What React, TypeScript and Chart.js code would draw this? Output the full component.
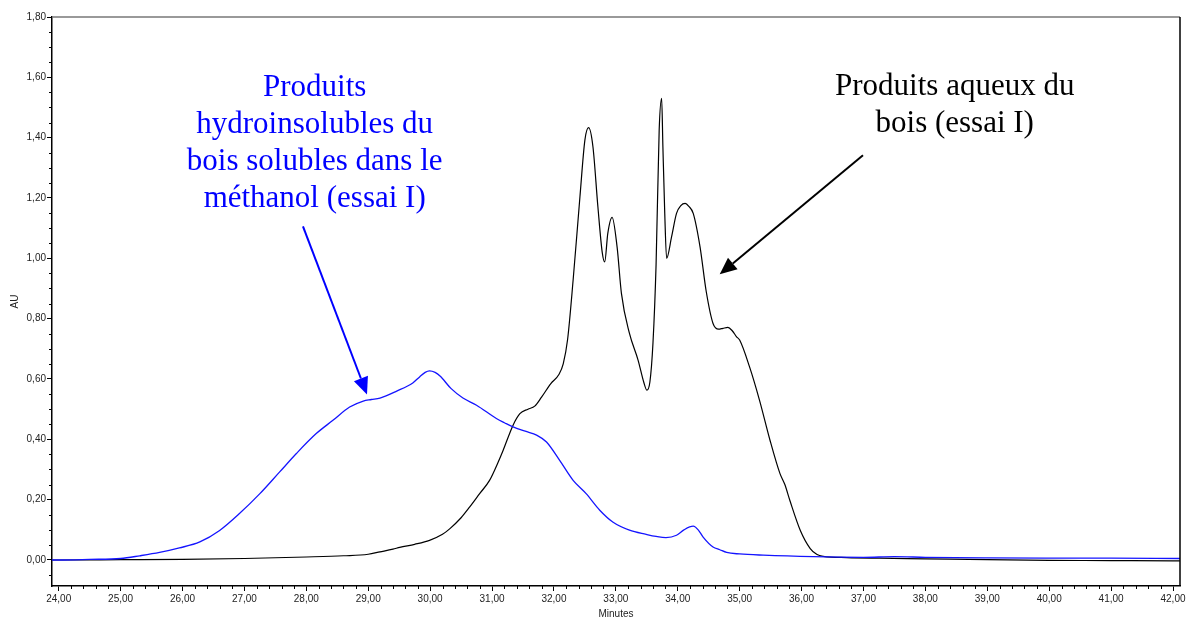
import React, { useEffect, useRef } from "react";
import { Chart, registerables } from "chart.js";

Chart.register(...registerables);

// ---- Data (minutes, AU) ----
const aqueousTimes = [
  23.892, 24.0, 25.0, 26.0, 27.0, 28.0, 28.6, 29.0, 29.19, 29.4, 29.51, 29.75, 29.99, 30.2, 30.32, 30.5, 30.64, 30.8, 30.96,
  31.1, 31.18, 31.34, 31.45, 31.58, 31.69, 31.8, 31.95, 32.08, 32.15, 32.22, 32.31, 32.42, 32.5, 32.56, 32.63,
  32.71, 32.78, 32.82, 32.87, 32.94, 33.02, 33.09, 33.22, 33.36, 33.45, 33.5, 33.55, 33.6, 33.65, 33.7, 33.74,
  33.76, 33.79, 33.82, 33.9, 33.98, 34.05, 34.12, 34.18, 34.25, 34.36, 34.46, 34.57, 34.66, 34.73, 34.81, 34.88,
  34.95, 35.0, 35.16, 35.32, 35.49, 35.65, 35.73, 35.81, 35.98, 36.14, 36.25, 36.35, 36.73, 37.26, 38.0, 39.0,
  40.0, 41.0, 42.0, 42.113,
];
const aqueousValues = [
  0.0, 0.0, 0.001, 0.002, 0.005, 0.01, 0.014, 0.019, 0.027, 0.036, 0.042, 0.052, 0.065, 0.085, 0.104, 0.14, 0.176, 0.22, 0.264,
  0.325, 0.364, 0.447, 0.485, 0.5, 0.51, 0.54, 0.585, 0.615, 0.65, 0.73, 0.928, 1.204, 1.392, 1.433, 1.37,
  1.171, 1.02, 0.988, 1.083, 1.136, 1.038, 0.884, 0.751, 0.662, 0.59, 0.563, 0.59, 0.72, 0.98, 1.425, 1.53,
  1.37, 1.149, 1.0, 1.071, 1.149, 1.175, 1.182, 1.172, 1.149, 1.038, 0.89, 0.784, 0.765, 0.768, 0.771, 0.76,
  0.74, 0.729, 0.64, 0.53, 0.397, 0.287, 0.25, 0.198, 0.098, 0.038, 0.018, 0.012, 0.008, 0.006, 0.004, 0.001,
  -0.001, -0.002, -0.003, -0.003,
];

const methanolTimes = [
  23.892, 24.0, 24.5, 25.0, 25.31, 25.63, 25.95, 26.28, 26.6, 26.92, 27.25, 27.57, 27.84, 28.16, 28.43, 28.7, 28.92, 29.05,
  29.19, 29.46, 29.72, 29.83, 29.92, 29.99, 30.08, 30.16, 30.34, 30.53, 30.75, 31.07, 31.2, 31.34, 31.55, 31.72,
  31.88, 32.09, 32.31, 32.52, 32.74, 32.95, 33.22, 33.49, 33.65, 33.81, 33.98, 34.1, 34.25, 34.33, 34.41, 34.57,
  34.68, 34.79, 35.0, 35.38, 36.19, 37.0, 37.5, 38.0, 39.0, 40.0, 41.0, 42.113,
];
const methanolValues = [
  0.0, 0.0, 0.002, 0.005, 0.014, 0.025, 0.04, 0.06, 0.098, 0.154, 0.22, 0.292, 0.353, 0.419, 0.463, 0.507, 0.527, 0.532,
  0.537, 0.56, 0.587, 0.607, 0.622, 0.627, 0.622, 0.61, 0.568, 0.537, 0.513, 0.469, 0.455, 0.441, 0.426, 0.414,
  0.391, 0.331, 0.264, 0.22, 0.165, 0.126, 0.099, 0.085, 0.078, 0.074, 0.082, 0.1, 0.112, 0.1, 0.076, 0.043,
  0.034, 0.025, 0.02, 0.016, 0.011, 0.009, 0.011, 0.009, 0.007, 0.006, 0.006, 0.005,
];

// ---- Axes ----
const xTickValues = [24, 25, 26, 27, 28, 29, 30, 31, 32, 33, 34, 35, 36, 37, 38, 39, 40, 41, 42];
const xTickLabels = [
  "24,00", "25,00", "26,00", "27,00", "28,00", "29,00", "30,00", "31,00", "32,00", "33,00",
  "34,00", "35,00", "36,00", "37,00", "38,00", "39,00", "40,00", "41,00", "42,00",
];
const yTickValues = [0, 0.2, 0.4, 0.6, 0.8, 1.0, 1.2, 1.4, 1.6, 1.8];
const yTickLabels = ["0,00", "0,20", "0,40", "0,60", "0,80", "1,00", "1,20", "1,40", "1,60", "1,80"];
const xTitle = "Minutes";
const yTitle = "AU";

// ---- Annotations (data coordinates) ----
const methanolLabelLines = ["Produits", "hydroinsolubles du", "bois solubles dans le", "méthanol (essai I)"];
const methanolLabelAnchor = [28.135, 1.537];
const methanolArrow = [27.946, 1.106, 28.98, 0.549];
const aqueousLabelLines = ["Produits aqueux du", "bois (essai I)"];
const aqueousLabelAnchor = [38.474, 1.54];
const aqueousArrow = [36.992, 1.3415, 34.678, 0.947];

const X_MIN = 23.892;
const X_MAX = 42.113;
const Y_MIN = -0.0862;
const Y_MAX = 1.8;

function drawArrow(ctx: CanvasRenderingContext2D, x1: number, y1: number, x2: number, y2: number, color: string) {
  const ang = Math.atan2(y2 - y1, x2 - x1);
  const headLen = 17;
  const headHalf = 7.5;
  const bx = x2 - headLen * Math.cos(ang);
  const by = y2 - headLen * Math.sin(ang);
  ctx.save();
  ctx.strokeStyle = color;
  ctx.fillStyle = color;
  ctx.lineWidth = 2;
  ctx.beginPath();
  ctx.moveTo(x1, y1);
  ctx.lineTo(bx, by);
  ctx.stroke();
  ctx.beginPath();
  ctx.moveTo(x2, y2);
  ctx.lineTo(bx + headHalf * Math.sin(ang), by - headHalf * Math.cos(ang));
  ctx.lineTo(bx - headHalf * Math.sin(ang), by + headHalf * Math.cos(ang));
  ctx.closePath();
  ctx.fill();
  ctx.restore();
}

const decorPlugin = {
  id: "decor",
  afterDatasetsDraw(chart: any) {
    const ctx: CanvasRenderingContext2D = chart.ctx;
    const xs = chart.scales.x;
    const ys = chart.scales.y;
    const area = chart.chartArea;
    ctx.save();
    // frame: top (grey) and right (black)
    ctx.lineWidth = 1.5;
    ctx.strokeStyle = "#777";
    ctx.beginPath();
    ctx.moveTo(area.left, area.top);
    ctx.lineTo(area.right, area.top);
    ctx.stroke();
    ctx.strokeStyle = "#000";
    ctx.beginPath();
    ctx.moveTo(area.right, area.top);
    ctx.lineTo(area.right, area.bottom);
    ctx.stroke();
    // minor ticks
    ctx.lineWidth = 1;
    ctx.strokeStyle = "#000";
    ctx.beginPath();
    for (let i = 0; i <= 90; i++) {
      if (i % 5 === 0) continue;
      const v = 24 + i * 0.2;
      const px = Math.round(xs.getPixelForValue(v)) + 0.5;
      ctx.moveTo(px, area.bottom);
      ctx.lineTo(px, area.bottom + 3);
    }
    for (let i = -1; i < 36; i++) {
      if (i % 4 === 0) continue;
      const v = i * 0.05;
      const py = Math.round(ys.getPixelForValue(v)) + 0.5;
      ctx.moveTo(area.left, py);
      ctx.lineTo(area.left - 3, py);
    }
    ctx.stroke();

    // annotations
    ctx.font = '31px "Liberation Serif", "Times New Roman", serif';
    ctx.textAlign = "center";
    ctx.textBaseline = "alphabetic";
    const lh = 37;
    ctx.fillStyle = "#0000ff";
    const mx = xs.getPixelForValue(methanolLabelAnchor[0]);
    const my = ys.getPixelForValue(methanolLabelAnchor[1]);
    methanolLabelLines.forEach((t, i) => ctx.fillText(t, mx, my + i * lh));
    ctx.fillStyle = "#000";
    const ax = xs.getPixelForValue(aqueousLabelAnchor[0]);
    const ay = ys.getPixelForValue(aqueousLabelAnchor[1]);
    aqueousLabelLines.forEach((t, i) => ctx.fillText(t, ax, ay + i * lh));

    drawArrow(
      ctx,
      xs.getPixelForValue(methanolArrow[0]), ys.getPixelForValue(methanolArrow[1]),
      xs.getPixelForValue(methanolArrow[2]), ys.getPixelForValue(methanolArrow[3]),
      "#0000ff"
    );
    drawArrow(
      ctx,
      xs.getPixelForValue(aqueousArrow[0]), ys.getPixelForValue(aqueousArrow[1]),
      xs.getPixelForValue(aqueousArrow[2]), ys.getPixelForValue(aqueousArrow[3]),
      "#000"
    );
    ctx.restore();
  },
};

export default function App() {
  const canvasRef = useRef<HTMLCanvasElement | null>(null);

  useEffect(() => {
    document.body.style.margin = "0";
    const canvas = canvasRef.current;
    if (!canvas) return;
    const tickFont = { family: '"Liberation Sans", Arial, sans-serif', size: 10 };
    const chart = new Chart(canvas, {
      type: "line",
      data: {
        datasets: [
          {
            label: "Produits hydroinsolubles du bois solubles dans le méthanol (essai I)",
            data: methanolTimes.map((t, i) => ({ x: t, y: methanolValues[i] })),
            borderColor: "#1414ff",
            borderWidth: 1.3,
            pointRadius: 0,
            cubicInterpolationMode: "monotone",
            fill: false,
          },
          {
            label: "Produits aqueux du bois (essai I)",
            data: aqueousTimes.map((t, i) => ({ x: t, y: aqueousValues[i] })),
            borderColor: "#000",
            borderWidth: 1.2,
            pointRadius: 0,
            cubicInterpolationMode: "monotone",
            fill: false,
          },
        ],
      },
      options: {
        responsive: false,
        animation: false,
        devicePixelRatio: 1,
        layout: { padding: { left: 0, top: 17, right: 7, bottom: 0 } },
        plugins: { legend: { display: false }, tooltip: { enabled: false } },
        scales: {
          x: {
            type: "linear",
            min: X_MIN,
            max: X_MAX,
            afterBuildTicks: (s: any) => {
              s.ticks = xTickValues.map((v) => ({ value: v }));
            },
            afterFit: (s: any) => {
              s.height = 33;
              s.paddingLeft = 0;
              s.paddingRight = 0;
            },
            ticks: {
              callback: (_v: any, i: number) => xTickLabels[i],
              font: tickFont,
              color: "#222",
              padding: 2,
              maxRotation: 0,
              autoSkip: false,
            },
            grid: { drawOnChartArea: false, drawTicks: true, tickLength: 5, tickColor: "#000", tickWidth: 1 },
            border: { display: true, color: "#000", width: 1.5 },
            title: {
              display: true,
              text: xTitle,
              font: { family: '"Liberation Sans", Arial, sans-serif', size: 10, lineHeight: 1 },
              color: "#222",
              padding: 0,
            },
          },
          y: {
            type: "linear",
            min: Y_MIN,
            max: Y_MAX,
            afterBuildTicks: (s: any) => {
              s.ticks = yTickValues.map((v) => ({ value: v }));
            },
            afterFit: (s: any) => {
              s.width = 52;
              s.paddingTop = 0;
              s.paddingBottom = 0;
            },
            ticks: {
              callback: (_v: any, i: number) => yTickLabels[i],
              font: tickFont,
              color: "#222",
              padding: 1,
              autoSkip: false,
            },
            grid: { drawOnChartArea: false, drawTicks: true, tickLength: 5, tickColor: "#000", tickWidth: 1 },
            border: { display: true, color: "#000", width: 1.5 },
            title: {
              display: true,
              text: yTitle,
              font: { family: '"Liberation Sans", Arial, sans-serif', size: 10, lineHeight: 1 },
              color: "#222",
              padding: { top: 10, bottom: 0 },
            },
          },
        },
      },
      plugins: [decorPlugin],
    } as any);
    return () => chart.destroy();
  }, []);

  return (
    <div style={{ position: "absolute", left: 0, top: 0, width: 1187, height: 619, background: "#fff" }}>
      <canvas ref={canvasRef} width={1187} height={619} style={{ display: "block" }} />
    </div>
  );
}
